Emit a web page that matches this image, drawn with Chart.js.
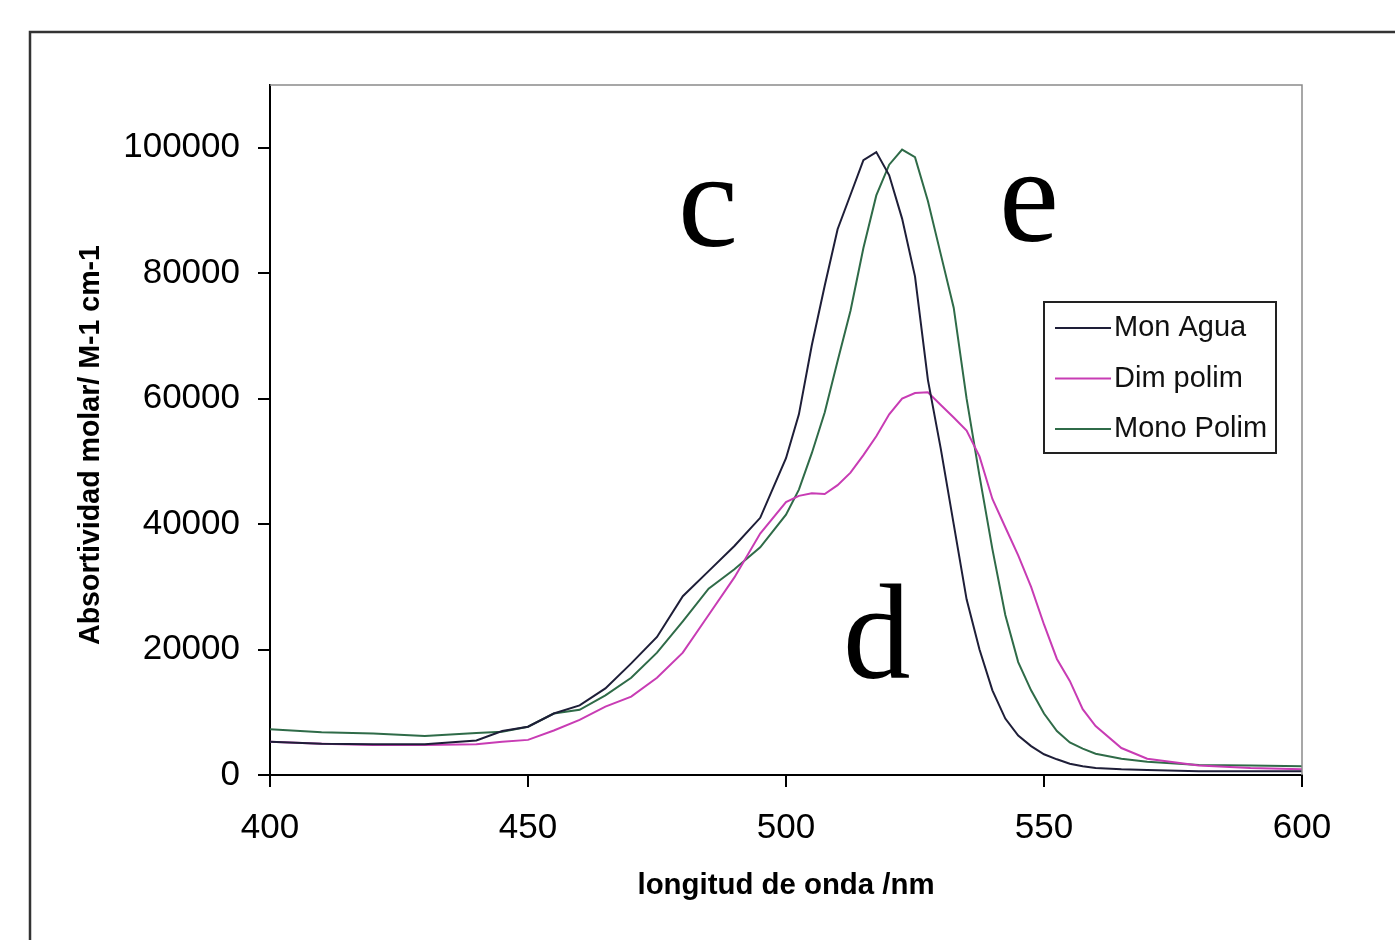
<!DOCTYPE html>
<html>
<head>
<meta charset="utf-8">
<script src="https://cdn.jsdelivr.net/npm/chart.js@4.4.1/dist/chart.umd.min.js"></script>
<style>
  html, body { margin: 0; padding: 0; background: #fff; }
  #wrap { width: 1395px; height: 940px; position: relative; }
</style>
</head>
<body>
<div id="wrap"><canvas id="spectra"></canvas></div>
<script>
// longitud de onda (nm)
var wavelengths = [400, 410, 420, 430, 440, 445, 450, 455, 460, 465, 470, 475, 480, 485, 490, 495,
  500, 502.5, 505, 507.5, 510, 512.5, 515, 517.5, 520, 522.5, 525, 527.5, 530, 532.5, 535, 537.5,
  540, 542.5, 545, 547.5, 550, 552.5, 555, 557.5, 560, 565, 570, 580, 590, 600];

var monAgua = [5300, 5000, 4900, 4900, 5500, 7000, 7700, 9800, 11100, 13800, 17800, 22000, 28500, 32500, 36500, 41000,
  50500, 57500, 68500, 78000, 87000, 92500, 98000, 99300, 95600, 88700, 79500, 63000, 52000, 40000, 28000, 20000,
  13500, 9000, 6300, 4600, 3300, 2500, 1800, 1400, 1100, 900, 800, 600, 600, 600];

var dimPolim = [5300, 5000, 4800, 4800, 4900, 5300, 5600, 7100, 8800, 10900, 12500, 15500, 19500, 25500, 31500, 38500,
  43500, 44500, 44900, 44800, 46200, 48200, 51000, 54000, 57500, 60000, 60900, 61000, 59000, 57000, 54900, 50800,
  44000, 39500, 35000, 30000, 24000, 18500, 15000, 10500, 7800, 4300, 2600, 1500, 1100, 900];

var monoPolim = [7300, 6800, 6600, 6200, 6700, 6900, 7700, 9800, 10400, 12700, 15500, 19500, 24500, 29700, 32800, 36300,
  41500, 45500, 51300, 57800, 66000, 74000, 84000, 92400, 97300, 99700, 98500, 91500, 83000, 74500, 60000, 47700,
  36000, 25500, 18000, 13500, 9800, 7000, 5200, 4200, 3400, 2600, 2100, 1600, 1500, 1400];

var seriesNames = ["Mon Agua", "Dim polim", "Mono Polim"];
var seriesColors = ["#1e1e38", "#c83cb4", "#2f6b48"];

var xTicks = [400, 450, 500, 550, 600];
var yTicks = [0, 20000, 40000, 60000, 80000, 100000];

// letras sobre las curvas: texto, longitud de onda, valor (línea base)
var curveLetters = [
  ["c", 484.9, 84400],
  ["e", 547.1, 85200],
  ["d", 517.6, 15450]
];

function toPoints(ys) {
  return wavelengths.map(function (w, i) { return { x: w, y: ys[i] }; });
}

var allSeries = [monAgua, dimPolim, monoPolim];
var datasets = allSeries.map(function (s, i) {
  return {
    label: seriesNames[i],
    data: toPoints(s),
    borderColor: seriesColors[i],
    backgroundColor: seriesColors[i],
    borderWidth: 2,
    pointRadius: 0,
    tension: 0,
    fill: false
  };
});

// draw text squeezed/stretched to a given width
function fitText(c, txt, x, y, w) {
  var m = c.measureText(txt).width;
  c.save();
  c.translate(x, y);
  c.scale(w / m, 1);
  c.fillText(txt, 0, 0);
  c.restore();
}

var decor = {
  id: "decor",
  beforeDraw: function (chart) {
    var c = chart.ctx;
    c.save();
    c.fillStyle = "#fff";
    c.fillRect(0, 0, chart.width, chart.height);
    // outer frame
    c.strokeStyle = "#333";
    c.lineWidth = 2.5;
    c.beginPath();
    c.moveTo(30, 940);
    c.lineTo(30, 32);
    c.lineTo(1395, 32);
    c.stroke();
    c.restore();
  },
  afterDraw: function (chart) {
    var c = chart.ctx, a = chart.chartArea;
    var xs = chart.scales.x, ys = chart.scales.y;
    c.save();
    // plot area border top / right
    c.strokeStyle = "#8a8a8a";
    c.lineWidth = 1.5;
    c.beginPath();
    c.moveTo(a.left, a.top);
    c.lineTo(a.right, a.top);
    c.lineTo(a.right, a.bottom);
    c.stroke();

    // axis titles
    c.fillStyle = "#000";
    c.font = "bold 30px 'Liberation Sans', Arial, sans-serif";
    c.textAlign = "center";
    c.textBaseline = "middle";
    fitText(c, "longitud de onda /nm", (a.left + a.right) / 2, 886, 297);
    c.save();
    c.translate(91, 445);
    c.rotate(-Math.PI / 2);
    fitText(c, "Absortividad molar/ M-1 cm-1", 0, 0, 400);
    c.restore();

    // letters
    c.font = "135px 'Liberation Serif', 'Times New Roman', serif";
    c.textBaseline = "alphabetic";
    curveLetters.forEach(function (l) {
      c.fillText(l[0], xs.getPixelForValue(l[1]), ys.getPixelForValue(l[2]));
    });

    // legend
    var bx = 1044, by = 302, bw = 232, bh = 151;
    c.fillStyle = "#fff";
    c.fillRect(bx, by, bw, bh);
    c.strokeStyle = "#222";
    c.lineWidth = 2;
    c.strokeRect(bx, by, bw, bh);
    c.font = "29px 'Liberation Sans', Arial, sans-serif";
    c.textAlign = "left";
    c.textBaseline = "middle";
    chart.data.datasets.forEach(function (ds, i) {
      var yy = 328 + i * 50.5;
      c.strokeStyle = ds.borderColor;
      c.lineWidth = 2;
      c.beginPath();
      c.moveTo(1055, yy);
      c.lineTo(1111, yy);
      c.stroke();
      c.fillStyle = "#111";
      c.fillText(ds.label, 1114, yy);
    });
    c.restore();
  }
};

new Chart(document.getElementById("spectra"), {
  type: "line",
  data: { datasets: datasets },
  plugins: [decor],
  options: {
    responsive: true,
    maintainAspectRatio: false,
    animation: false,
    layout: { padding: { left: 0, top: 85, right: 93, bottom: 0 } },
    plugins: { legend: { display: false }, tooltip: { enabled: false } },
    scales: {
      x: {
        type: "linear",
        min: 400,
        max: 600,
        afterBuildTicks: function (s) { s.ticks = xTicks.map(function (v) { return { value: v }; }); },
        afterFit: function (s) { s.height = 165; },
        grid: { drawOnChartArea: false, drawTicks: true, tickLength: 12, color: "#000", lineWidth: 2 },
        border: { color: "#000", width: 2 },
        ticks: { color: "#000", padding: 20, maxRotation: 0, font: { family: "'Liberation Sans', Arial, sans-serif", size: 35 } }
      },
      y: {
        type: "linear",
        min: 0,
        max: 110000,
        afterBuildTicks: function (s) { s.ticks = yTicks.map(function (v) { return { value: v }; }); },
        afterFit: function (s) { s.width = 270; },
        grid: { drawOnChartArea: false, drawTicks: true, tickLength: 12, color: "#000", lineWidth: 2 },
        border: { color: "#000", width: 2 },
        ticks: { color: "#000", padding: 18, font: { family: "'Liberation Sans', Arial, sans-serif", size: 35 },
          callback: function (v) { return String(v); } }
      }
    }
  }
});
</script>
</body>
</html>
